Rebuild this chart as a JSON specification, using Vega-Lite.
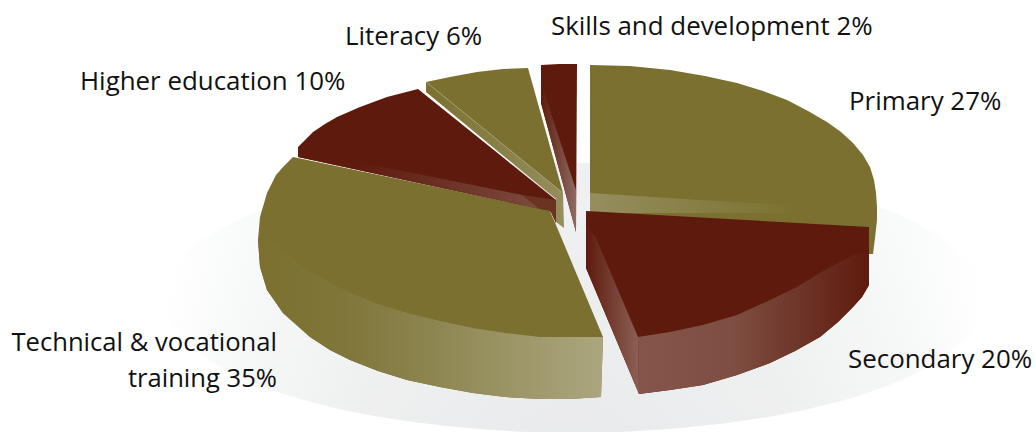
{
"$schema":"https://vega.github.io/schema/vega-lite/v6.json",
"width":1035,"height":432,"padding":0,"autosize":{"type":"none"},
"background":"white",
"config":{"view":{"stroke":null}},
"datasets":{
"ground":[{"x":394,"y":-103},{"x":380,"y":-68},{"x":339,"y":-35},{"x":274,"y":-7},{"x":189,"y":14},{"x":90,"y":27},{"x":-16,"y":32},{"x":-122,"y":27},{"x":-221,"y":14},{"x":-306,"y":-7},{"x":-371,"y":-35},{"x":-412,"y":-68},{"x":-426,"y":-103},{"x":-412,"y":-138},{"x":-371,"y":-171},{"x":-306,"y":-199},{"x":-221,"y":-220},{"x":-122,"y":-233},{"x":-16,"y":-238},{"x":90,"y":-233},{"x":189,"y":-220},{"x":274,"y":-199},{"x":339,"y":-171},{"x":380,"y":-138}],
"primaryTop":[{"x":0,"y":130},{"x":40,"y":129},{"x":80,"y":125},{"x":115,"y":119},{"x":147,"y":112},{"x":173,"y":104},{"x":197,"y":95},{"x":218,"y":84},{"x":237,"y":73},{"x":251,"y":63},{"x":263,"y":52},{"x":273,"y":40},{"x":280,"y":28},{"x":284,"y":15},{"x":286,"y":2},{"x":287,"y":-12},{"x":287,"y":-25},{"x":285,"y":-43},{"x":283,"y":-59},{"x":270,"y":-59},{"x":0,"y":-30},{"x":0,"y":130}],
"primaryCut":[{"x":0,"y":2},{"x":110,"y":-5},{"x":210,"y":-11},{"x":210,"y":-18},{"x":0,"y":-18},{"x":0,"y":2}],
"skillsTop":[{"x":-49,"y":130},{"x":-31,"y":131},{"x":-13,"y":131},{"x":-14,"y":-37},{"x":-49,"y":92},{"x":-49,"y":130}],
"skillsCut":[{"x":-46,"y":103},{"x":-14,"y":5},{"x":-14,"y":-37},{"x":-49,"y":92},{"x":-46,"y":103}],
"literacyCut":[{"x":-164,"y":113},{"x":-27,"y":2},{"x":-26,"y":-33},{"x":-34,"y":-27},{"x":-34,"y":-4},{"x":-164,"y":103},{"x":-164,"y":113}],
"literacyTop":[{"x":-164,"y":113},{"x":-140,"y":118},{"x":-113,"y":123},{"x":-87,"y":126},{"x":-62,"y":127},{"x":-27,"y":2},{"x":-164,"y":113}],
"literacyEdge":[{"x":-164,"y":113},{"x":-27,"y":2}],
"higherTop":[{"x":-292,"y":48},{"x":-277,"y":63},{"x":-265,"y":71},{"x":-253,"y":78},{"x":-230,"y":88},{"x":-203,"y":98},{"x":-172,"y":106},{"x":-34,"y":-5},{"x":-34,"y":-28},{"x":-39,"y":-17},{"x":-292,"y":38},{"x":-292,"y":48}],
"higherCut":[{"x":-292,"y":45},{"x":-68,"y":0},{"x":-50,"y":-14},{"x":-292,"y":38},{"x":-292,"y":45}],
"higherCorner":[{"x":-68,"y":0},{"x":-34,"y":-5},{"x":-34,"y":-28},{"x":-39,"y":-17},{"x":-50,"y":-14},{"x":-68,"y":0}],
"technicalTop":[{"x":-297,"y":38},{"x":-306,"y":29},{"x":-314,"y":20},{"x":-323,"y":2},{"x":-330,"y":-22},{"x":-332,"y":-45},{"x":-330,"y":-72},{"x":-323,"y":-95},{"x":-307,"y":-118},{"x":-280,"y":-142},{"x":-260,"y":-155},{"x":-240,"y":-165},{"x":-212,"y":-176},{"x":-183,"y":-185},{"x":-150,"y":-192},{"x":-117,"y":-198},{"x":-85,"y":-202},{"x":-50,"y":-204},{"x":-20,"y":-204},{"x":11,"y":-202},{"x":13,"y":-142},{"x":-34,"y":-30},{"x":-40,"y":-16},{"x":-297,"y":38}],
"technicalSide":[{"x":-313,"y":-48},{"x":-290,"y":-70},{"x":-250,"y":-93},{"x":-215,"y":-108},{"x":-183,"y":-118},{"x":-150,"y":-126},{"x":-117,"y":-133},{"x":-85,"y":-138},{"x":-50,"y":-142},{"x":-20,"y":-142},{"x":13,"y":-142},{"x":11,"y":-202},{"x":-20,"y":-204},{"x":-50,"y":-204},{"x":-85,"y":-202},{"x":-117,"y":-198},{"x":-150,"y":-192},{"x":-183,"y":-185},{"x":-212,"y":-176},{"x":-240,"y":-165},{"x":-260,"y":-155},{"x":-280,"y":-142},{"x":-307,"y":-118},{"x":-323,"y":-95},{"x":-330,"y":-72},{"x":-332,"y":-45},{"x":-313,"y":-48}],
"secondaryTop":[{"x":-4,"y":-16},{"x":279,"y":-32},{"x":279,"y":-90},{"x":272,"y":-102},{"x":263,"y":-112},{"x":248,"y":-127},{"x":230,"y":-142},{"x":205,"y":-156},{"x":180,"y":-168},{"x":147,"y":-180},{"x":113,"y":-190},{"x":80,"y":-195},{"x":49,"y":-199},{"x":-4,"y":-73},{"x":-4,"y":-16}],
"secondarySide":[{"x":265,"y":-59},{"x":279,"y":-58},{"x":279,"y":-90},{"x":272,"y":-102},{"x":263,"y":-112},{"x":248,"y":-127},{"x":230,"y":-142},{"x":205,"y":-156},{"x":180,"y":-168},{"x":147,"y":-180},{"x":113,"y":-190},{"x":80,"y":-195},{"x":49,"y":-199},{"x":48,"y":-142},{"x":80,"y":-137},{"x":113,"y":-130},{"x":147,"y":-120},{"x":180,"y":-105},{"x":207,"y":-92},{"x":230,"y":-78},{"x":248,"y":-68},{"x":265,"y":-59}],
"secondaryCut":[{"x":6,"y":-43},{"x":48,"y":-142},{"x":49,"y":-199},{"x":-4,"y":-73},{"x":-4,"y":-30},{"x":6,"y":-43}],
"labelsLeft":[{"x":-39,"y":160,"label":"Skills and development 2%"},{"x":-245,"y":150,"label":"Literacy 6%"},{"x":259,"y":85,"label":"Primary 27%"},{"x":-510,"y":105,"label":"Higher education 10%"},{"x":258,"y":-173,"label":"Secondary 20%"}],
"labelsRight":[{"x":-313,"y":-156,"label":"Technical & vocational"},{"x":-313,"y":-192,"label":"training 35%"}]
},
"encoding":{
"x":{"field":"x","type":"quantitative","axis":null,"scale":{"domain":[-590,445],"nice":false,"zero":false}},
"y":{"field":"y","type":"quantitative","axis":null,"scale":{"domain":[-237,195],"nice":false,"zero":false}},
"order":{"value":null}
},
"layer":[
{"data":{"name":"ground"},"mark":{"type":"line","interpolate":"cardinal-closed","strokeWidth":0,"clip":true,"fill":{"gradient":"linear","x1":0,"y1":0,"x2":1,"y2":0,"stops":[{"offset":0,"color":"#ffffff"},{"offset":0.1,"color":"#f9fafa"},{"offset":0.25,"color":"#f3f4f4"},{"offset":0.5,"color":"#f0f1f2"},{"offset":0.75,"color":"#f3f4f4"},{"offset":0.9,"color":"#f9fafa"},{"offset":1,"color":"#ffffff"}]}}},
{"data":{"name":"ground"},"mark":{"type":"line","interpolate":"cardinal-closed","strokeWidth":0,"clip":true,"fill":{"gradient":"radial","x1":0.5,"y1":1,"r1":0,"x2":0.5,"y2":1,"r2":0.7,"stops":[{"offset":0,"color":"rgba(205,207,210,0.35)"},{"offset":1,"color":"rgba(205,207,210,0)"}]}}},
{"data":{"name":"primaryTop"},"mark":{"type":"line","strokeWidth":0,"fill":"#7b702f"}},
{"data":{"name":"primaryCut"},"mark":{"type":"line","strokeWidth":0,"fill":{"gradient":"linear","x1":0,"y1":0,"x2":1,"y2":0,"stops":[{"offset":0,"color":"#958e5e"},{"offset":1,"color":"#7b702f"}]}}},
{"data":{"name":"skillsTop"},"mark":{"type":"line","strokeWidth":0,"fill":"#5e1b0d"}},
{"data":{"name":"skillsCut"},"mark":{"type":"line","strokeWidth":0,"fill":{"gradient":"linear","x1":0,"y1":0,"x2":1,"y2":0,"stops":[{"offset":0,"color":"#5e1b0d"},{"offset":1,"color":"#8f6a63"}]}}},
{"data":{"name":"literacyCut"},"mark":{"type":"line","strokeWidth":0,"fill":{"gradient":"linear","x1":0,"y1":0,"x2":1,"y2":0,"stops":[{"offset":0,"color":"#7b702f"},{"offset":1,"color":"#958e5d"}]}}},
{"data":{"name":"literacyTop"},"mark":{"type":"line","strokeWidth":0,"fill":"#7b702f"}},
{"data":{"name":"literacyEdge"},"mark":{"type":"line","strokeWidth":0.6,"color":"#a8a27f"}},
{"data":{"name":"higherTop"},"mark":{"type":"line","strokeWidth":0,"fill":"#5e1b0d"}},
{"data":{"name":"higherCut"},"mark":{"type":"line","strokeWidth":0,"fill":{"gradient":"linear","x1":0,"y1":0,"x2":1,"y2":0,"stops":[{"offset":0,"color":"#5e1b0d"},{"offset":0.25,"color":"#5e1b0d"},{"offset":1,"color":"#7c4a40"}]}}},
{"data":{"name":"higherCorner"},"mark":{"type":"line","strokeWidth":0,"fill":"#6b3420"}},
{"data":{"name":"technicalTop"},"mark":{"type":"line","strokeWidth":0,"fill":"#7b702f"}},
{"data":{"name":"technicalSide"},"mark":{"type":"line","strokeWidth":0,"fill":{"gradient":"linear","x1":0,"y1":0,"x2":1,"y2":0,"stops":[{"offset":0,"color":"#7b702f"},{"offset":0.25,"color":"#80763a"},{"offset":0.5,"color":"#8d8550"},{"offset":0.75,"color":"#9c9668"},{"offset":1,"color":"#aba67e"}]}}},
{"data":{"name":"secondaryTop"},"mark":{"type":"line","strokeWidth":0,"fill":"#5e1b0d"}},
{"data":{"name":"secondarySide"},"mark":{"type":"line","strokeWidth":0,"fill":{"gradient":"linear","x1":0,"y1":0,"x2":1,"y2":0,"stops":[{"offset":0,"color":"#85554b"},{"offset":0.4,"color":"#7f4e42"},{"offset":0.7,"color":"#6e3529"},{"offset":1,"color":"#5e1b0d"}]}}},
{"data":{"name":"secondaryCut"},"mark":{"type":"line","strokeWidth":0,"fill":{"gradient":"linear","x1":0,"y1":0,"x2":1,"y2":0,"stops":[{"offset":0,"color":"#5e1b0d"},{"offset":1,"color":"#8c6056"}]}}},
{"data":{"name":"labelsLeft"},"mark":{"type":"text","align":"left","baseline":"alphabetic","font":"Open Sans","fontSize":25.9,"color":"#111111"},"encoding":{"text":{"field":"label"},"order":{"value":null}}},
{"data":{"name":"labelsRight"},"mark":{"type":"text","align":"right","baseline":"alphabetic","font":"Open Sans","fontSize":25.6,"color":"#111111"},"encoding":{"text":{"field":"label"},"order":{"value":null}}}
]
}
